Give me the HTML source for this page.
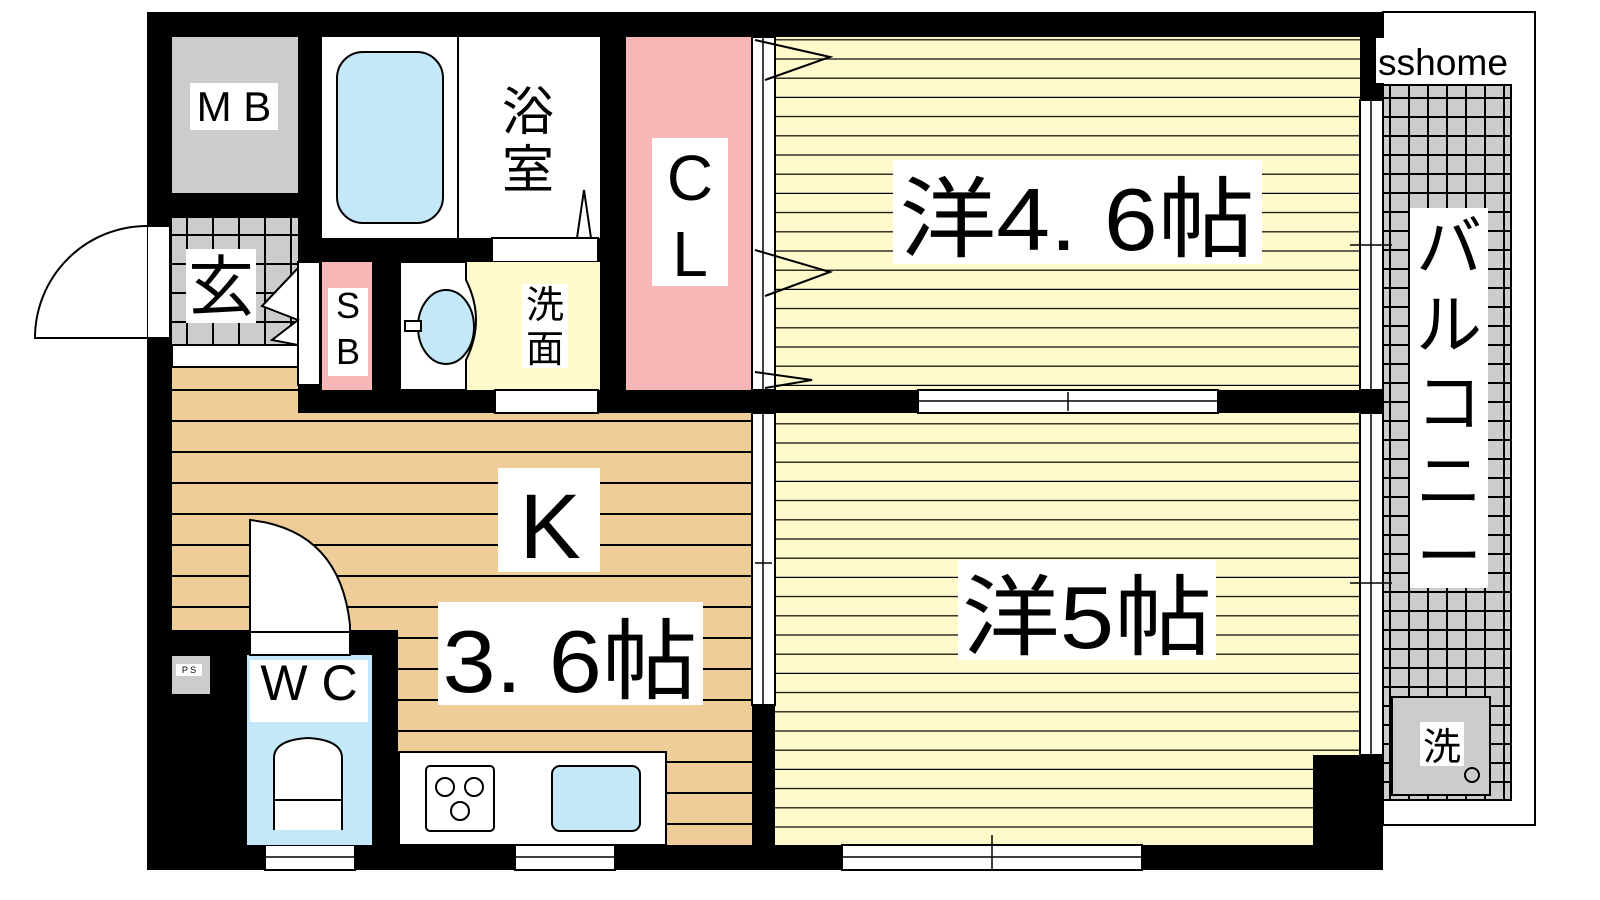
<!DOCTYPE html>
<html><head><meta charset="utf-8"><style>html,body{margin:0;padding:0;background:#fff}svg{display:block}
text{font-family:"Liberation Sans","Noto Sans CJK JP",sans-serif;fill:#000}</style></head><body>
<svg width="1600" height="900" viewBox="0 0 1600 900" xmlns="http://www.w3.org/2000/svg">
<defs>
<pattern id="yl" patternUnits="userSpaceOnUse" x="0" y="2" width="20" height="19.2"><rect width="20" height="19.2" fill="#fff9cc"/><rect y="18" width="20" height="1.6" fill="#000"/></pattern>
<pattern id="or" patternUnits="userSpaceOnUse" x="0" y="19" width="20" height="31"><rect width="20" height="31" fill="#efcd98"/><rect y="29" width="20" height="2" fill="#000"/></pattern>
<pattern id="tile" patternUnits="userSpaceOnUse" x="2" y="2" width="19" height="19"><rect width="19" height="19" fill="#ccc"/><rect width="2" height="19" fill="#000"/><rect width="19" height="2" fill="#000"/></pattern>
<pattern id="tile2" patternUnits="userSpaceOnUse" x="4" y="2" width="26" height="29"><rect width="26" height="29" fill="#ccc"/><rect width="2" height="29" fill="#000"/><rect width="26" height="2" fill="#000"/></pattern>
</defs>
<!-- balcony -->
<rect x="1383" y="12" width="152" height="813" fill="#fff" stroke="#000" stroke-width="2"/>
<rect x="1383" y="85" width="128" height="715" fill="url(#tile)" stroke="#000" stroke-width="2"/>
<rect x="1410" y="208" width="78" height="380" fill="#fff"/>
<text x="1449" y="270" font-size="66" text-anchor="middle">バ</text>
<text x="1449" y="348" font-size="66" text-anchor="middle">ル</text>
<text x="1449" y="426" font-size="66" text-anchor="middle">コ</text>
<text x="1449" y="504" font-size="66" text-anchor="middle">ニ</text>
<text x="1449" y="580" font-size="66" text-anchor="middle">ー</text>
<rect x="1392" y="697" width="98" height="98" fill="#ccc" stroke="#000" stroke-width="2"/>
<rect x="1420" y="722" width="44" height="44" fill="#fff"/>
<text x="1442" y="760" font-size="38" text-anchor="middle">洗</text>
<circle cx="1472" cy="775" r="7" fill="none" stroke="#000" stroke-width="2"/>
<!-- outer walls -->
<rect x="147" y="12" width="1236" height="858" fill="#000"/>
<rect x="1376" y="38" width="136" height="45" fill="#fff"/>
<text x="1378" y="75" font-size="37" textLength="130" lengthAdjust="spacingAndGlyphs">sshome</text>
<!-- rooms -->
<rect x="775" y="37" width="585" height="353" fill="url(#yl)"/>
<rect x="775" y="413" width="585" height="432" fill="url(#yl)"/>
<rect x="1313" y="755" width="70" height="115" fill="#000"/>
<rect x="172" y="413" width="580" height="432" fill="url(#or)"/>
<rect x="172" y="367" width="126" height="46" fill="url(#or)"/>
<rect x="626" y="37" width="126" height="353" fill="#f8b6b6"/>
<rect x="172" y="37" width="126" height="156" fill="#ccc"/>
<rect x="172" y="218" width="126" height="127" fill="url(#tile2)"/>
<rect x="172" y="345" width="126" height="22" fill="#fff" stroke="#000" stroke-width="2"/>
<rect x="322" y="37" width="278" height="201" fill="#fff"/>
<line x1="458" y1="37" x2="458" y2="238" stroke="#000" stroke-width="2"/>
<rect x="337" y="52" width="106" height="171" rx="26" fill="#c3e8f8" stroke="#000" stroke-width="2"/>
<polygon points="577,238 584,190 591,238" fill="#fff" stroke="#000" stroke-width="2"/>
<rect x="492" y="238" width="106" height="24" fill="#fff" stroke="#000" stroke-width="2"/>
<rect x="322" y="262" width="50" height="128" fill="#f8b6b6"/>
<rect x="298" y="262" width="22" height="123" fill="#fff" stroke="#000" stroke-width="2"/>
<polygon points="298,268 262,306 298,320 272,340 298,345" fill="#fff" stroke="#000" stroke-width="2"/>
<rect x="400" y="262" width="200" height="128" fill="#fff9cc"/>
<path d="M400,262 H466 V280 Q486,320 466,360 V390 H400 Z" fill="#fff" stroke="#000" stroke-width="2"/>
<ellipse cx="446" cy="327" rx="28" ry="37" fill="#c3e8f8" stroke="#000" stroke-width="2"/>
<rect x="405" y="321" width="16" height="10" fill="#fff" stroke="#000" stroke-width="2"/>
<rect x="495" y="390" width="103" height="23" fill="#fff" stroke="#000" stroke-width="2"/>
<!-- CL/room divider -->
<rect x="752" y="37" width="23" height="353" fill="#fff" stroke="#000" stroke-width="2"/>
<line x1="763" y1="37" x2="763" y2="390" stroke="#000" stroke-width="1.5"/>
<polyline points="755,40 830,57 765,80" fill="none" stroke="#000" stroke-width="2"/>
<polyline points="755,250 830,272 765,296" fill="none" stroke="#000" stroke-width="2"/>
<polyline points="755,372 812,380 765,388" fill="none" stroke="#000" stroke-width="2"/>
<rect x="752" y="413" width="23" height="292" fill="#fff" stroke="#000" stroke-width="2"/>
<line x1="763" y1="413" x2="763" y2="705" stroke="#000" stroke-width="1.5"/>
<line x1="755" y1="563" x2="772" y2="563" stroke="#000" stroke-width="1.5"/>
<!-- windows -->
<rect x="918" y="390" width="300" height="23" fill="#fff" stroke="#000" stroke-width="2"/>
<line x1="918" y1="401" x2="1218" y2="401" stroke="#000" stroke-width="1.5"/>
<line x1="1068" y1="392" x2="1068" y2="411" stroke="#000" stroke-width="1.5"/>
<rect x="1360" y="100" width="23" height="290" fill="#fff" stroke="#000" stroke-width="2"/>
<line x1="1371" y1="100" x2="1371" y2="390" stroke="#000" stroke-width="1.5"/>
<line x1="1350" y1="245" x2="1392" y2="245" stroke="#000" stroke-width="1.5"/>
<rect x="1360" y="413" width="23" height="342" fill="#fff" stroke="#000" stroke-width="2"/>
<line x1="1371" y1="413" x2="1371" y2="755" stroke="#000" stroke-width="1.5"/>
<line x1="1350" y1="583" x2="1392" y2="583" stroke="#000" stroke-width="1.5"/>
<rect x="842" y="845" width="300" height="25" fill="#fff" stroke="#000" stroke-width="2"/>
<line x1="842" y1="857" x2="1142" y2="857" stroke="#000" stroke-width="1.5"/>
<line x1="992" y1="835" x2="992" y2="870" stroke="#000" stroke-width="1.5"/>
<rect x="515" y="845" width="100" height="25" fill="#fff" stroke="#000" stroke-width="2"/>
<line x1="515" y1="857" x2="615" y2="857" stroke="#000" stroke-width="1.5"/>
<rect x="265" y="845" width="90" height="25" fill="#fff" stroke="#000" stroke-width="2"/>
<line x1="265" y1="857" x2="355" y2="857" stroke="#000" stroke-width="1.5"/>
<!-- entry door -->
<rect x="147" y="226" width="23" height="112" fill="#fff" stroke="#000" stroke-width="2"/>
<path d="M147,226 A112,112 0 0 0 35,338 H147" fill="#fff" stroke="#000" stroke-width="2"/>
<!-- WC -->
<rect x="172" y="630" width="226" height="215" fill="#000"/>
<rect x="172" y="656" width="38" height="38" fill="#ccc"/>
<rect x="176" y="664" width="26" height="12" fill="#fff"/>
<text x="189" y="673" font-size="9" text-anchor="middle">P S</text>
<rect x="247" y="655" width="125" height="190" fill="#c3e8f8"/>
<path d="M250,520 Q340,530 350,625 V655 H250 Z" fill="#fff" stroke="#000" stroke-width="2"/>
<line x1="250" y1="632" x2="350" y2="632" stroke="#000" stroke-width="2"/>
<rect x="250" y="660" width="118" height="62" fill="#fff"/>
<text x="309" y="700" font-size="50" text-anchor="middle">W C</text>
<path d="M274,830 V758 Q274,740 308,738 Q342,740 342,758 V830" fill="#fff" stroke="#000" stroke-width="2"/>
<line x1="274" y1="800" x2="342" y2="800" stroke="#000" stroke-width="2"/>
<!-- kitchen counter -->
<rect x="399" y="752" width="267" height="93" fill="#fff" stroke="#000" stroke-width="2"/>
<rect x="426" y="766" width="68" height="65" rx="4" fill="#fff" stroke="#000" stroke-width="2"/>
<circle cx="445" cy="787" r="9" fill="none" stroke="#000" stroke-width="2"/>
<circle cx="474" cy="787" r="9" fill="none" stroke="#000" stroke-width="2"/>
<circle cx="460" cy="811" r="9" fill="none" stroke="#000" stroke-width="2"/>
<rect x="552" y="766" width="88" height="65" rx="8" fill="#c3e8f8" stroke="#000" stroke-width="2"/>
<!-- labels -->
<rect x="190" y="83" width="88" height="47" fill="#fff"/>
<text x="234" y="121" font-size="42" text-anchor="middle">M B</text>
<rect x="186" y="249" width="70" height="74" fill="#fff"/>
<text x="221" y="310" font-size="66" text-anchor="middle">玄</text>
<text x="528" y="130" font-size="52" text-anchor="middle">浴</text>
<text x="528" y="188" font-size="52" text-anchor="middle">室</text>
<rect x="328" y="288" width="40" height="88" fill="#fff"/>
<text x="348" y="318" font-size="36" text-anchor="middle">S</text>
<text x="348" y="364" font-size="36" text-anchor="middle">B</text>
<rect x="522" y="284" width="46" height="84" fill="#fff"/>
<text x="545" y="318" font-size="38" text-anchor="middle">洗</text>
<text x="545" y="362" font-size="38" text-anchor="middle">面</text>
<rect x="652" y="138" width="76" height="148" fill="#fff"/>
<text x="690" y="200" font-size="64" text-anchor="middle">C</text>
<text x="690" y="276" font-size="64" text-anchor="middle">L</text>
<rect x="893" y="160" width="369" height="104" fill="#fff"/>
<text x="1077" y="250" font-size="88" text-anchor="middle" textLength="355" lengthAdjust="spacingAndGlyphs">洋4. 6帖</text>
<rect x="958" y="560" width="258" height="100" fill="#fff"/>
<text x="1087" y="648" font-size="88" text-anchor="middle" textLength="250" lengthAdjust="spacingAndGlyphs">洋5帖</text>
<rect x="498" y="468" width="102" height="104" fill="#fff"/>
<text x="550" y="558" font-size="92" text-anchor="middle">K</text>
<rect x="438" y="602" width="265" height="103" fill="#fff"/>
<text x="570" y="692" font-size="88" text-anchor="middle" textLength="255" lengthAdjust="spacingAndGlyphs">3. 6帖</text>
</svg>
</body></html>
